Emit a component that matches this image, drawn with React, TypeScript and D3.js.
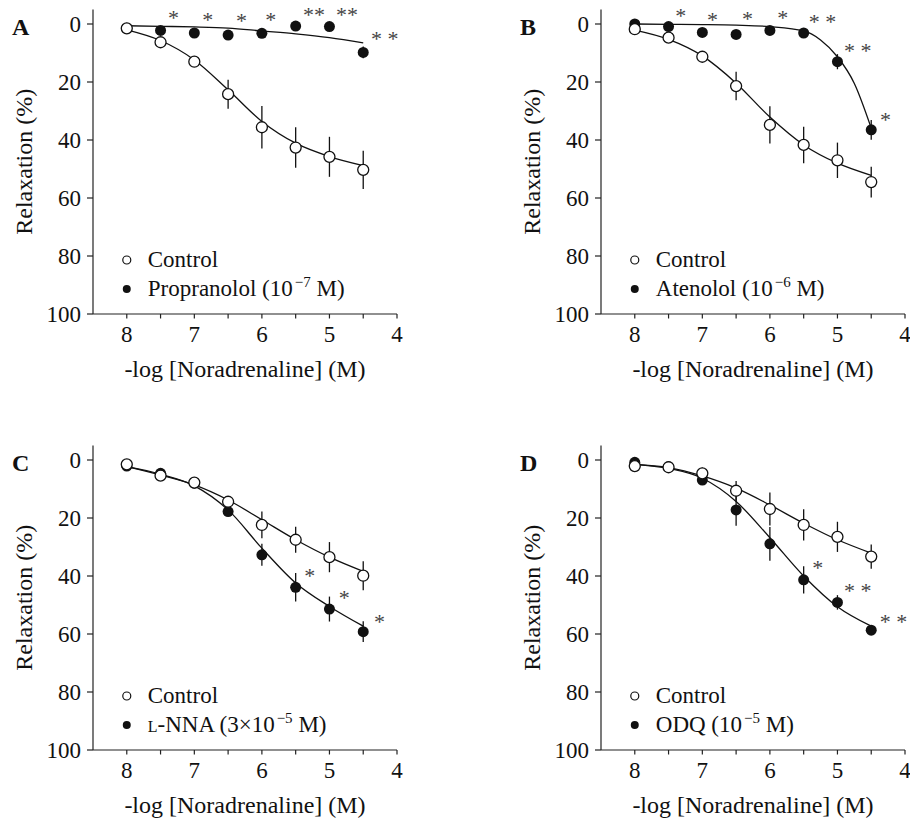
import * as d3 from "d3";

const doses = [8, 7.5, 7, 6.5, 6, 5.5, 5, 4.5];
const xMajorTicks = [8, 7, 6, 5, 4];
const xMinorTicks = [7.5, 6.5, 5.5, 4.5];
const yTicks = [0, 20, 40, 60, 80, 100];

// A: propranolol
const controlA = [1.5, 6.3, 13.0, 24.2, 35.6, 42.6, 45.8, 50.3];
const controlASem = [0.5, 0.8, 1.8, 5.0, 7.3, 7.0, 6.9, 6.6];
const controlAFit = [2.0, 5.7, 12.4, 22.7, 33.6, 41.1, 45.7, 48.8];
const propranolol = [1.5, 2.2, 3.1, 3.8, 3.2, 0.7, 0.9, 9.8];
const propranololSem = [0, 0, 0, 0, 0, 0, 0, 2.0];
const propranololFit = [0.6, 0.8, 1.0, 1.4, 2.4, 3.4, 4.7, 6.5];

// B: atenolol
const controlB = [1.8, 4.7, 11.3, 21.4, 34.8, 41.7, 47.0, 54.5];
const controlBSem = [0.5, 0.8, 1.5, 4.9, 6.4, 6.3, 6.1, 5.3];
const controlBFit = [2.1, 5.3, 11.0, 20.4, 32.1, 41.7, 48.0, 52.2];
const atenolol = [0, 0.9, 2.9, 3.6, 2.2, 3.1, 13.0, 36.5];
const atenololSem = [0, 0, 0, 0, 0, 0, 2.6, 3.4];
const atenololFitDoses = [8, 7.5, 7, 6.5, 6, 5.5, 5.25, 5, 4.75, 4.5];
const atenololFit = [0, 0.1, 0.2, 0.4, 0.9, 2.4, 5.5, 11.3, 20.5, 35.9];

// C: L-NNA
const controlC = [1.5, 5.4, 7.8, 14.4, 22.4, 27.5, 33.5, 39.9];
const controlCSem = [0.5, 0.8, 1.0, 1.5, 4.6, 4.5, 5.2, 5.0];
const controlCFit = [2.3, 5.2, 8.6, 13.8, 20.6, 27.5, 33.5, 38.4];
const lnna = [2.1, 4.6, 8.0, 17.8, 32.7, 43.9, 51.4, 59.2];
const lnnaSem = [0.5, 0.5, 0.8, 1.5, 3.8, 4.9, 4.3, 3.6];
const lnnaFit = [2.3, 4.9, 8.9, 17.2, 30.4, 42.4, 50.5, 57.3];

// D: ODQ
const controlD = [2.1, 2.5, 4.6, 10.6, 16.9, 22.4, 26.5, 33.3];
const controlDSem = [0.5, 0.5, 2.0, 3.4, 5.7, 5.4, 5.2, 4.2];
const controlDFit = [1.5, 2.6, 5.5, 9.7, 15.5, 21.8, 27.5, 32.1];
const odq = [0.8, 2.3, 6.9, 17.2, 28.9, 41.3, 49.1, 58.7];
const odqSem = [0.5, 0.5, 1.5, 5.5, 5.8, 4.7, 2.5, 1.5];
const odqFit = [1.5, 2.9, 6.3, 14.3, 26.8, 40.0, 50.6, 57.3];

// significance marks: [dose, relaxation, text]
const starsA: [number, number, string][] = [
  [7.31, -3.1, "*"], [6.8, -2.3, "*"], [6.3, -2.0, "*"], [5.87, -2.5, "*"],
  [5.23, -4.2, "**"], [4.74, -4.2, "**"], [4.18, 4.2, "* *"],
];
const starsB: [number, number, string][] = [
  [7.32, -3.7, "*"], [6.85, -2.5, "*"], [6.33, -2.8, "*"], [5.81, -3.2, "*"],
  [5.22, -1.7, "* *"], [4.7, 8.2, "* *"], [4.29, 31.9, "*"],
];
const starsC: [number, number, string][] = [
  [5.29, 39.0, "*"], [4.78, 46.4, "*"], [4.26, 54.8, "*"],
];
const starsD: [number, number, string][] = [
  [5.29, 36.1, "*"], [4.7, 44.3, "* *"], [4.17, 54.7, "* *"],
];

const FONT = "'Liberation Serif', 'Times New Roman', serif";

const x = d3.scaleLinear().domain([8.5, 4]).range([93, 397]);
const y = d3.scaleLinear().domain([-5, 100]).range([9.5, 314]);

type Series = { values: number[]; sem: number[]; fitX: number[]; fit: number[] };

const lineGen = d3
  .line<[number, number]>()
  .x((d) => x(d[0]))
  .y((d) => y(d[1]))
  .curve(d3.curveMonotoneX);

const Legend = ({ drug }: { drug: React.ReactNode }) => (
  <g fontFamily={FONT} fontSize={23} fill="#111">
    <circle cx={x(8)} cy={260} r={4} fill="#fff" stroke="#111" strokeWidth={1.2} />
    <text x={x(8) + 21} y={267}>Control</text>
    <circle cx={x(8)} cy={289} r={4} fill="#111" />
    <text x={x(8) + 21} y={296}>{drug}</text>
  </g>
);

const sup = (s: string) => [
  <tspan key="s" dx={2} dy={-9} fontSize={15}>{s}</tspan>,
  <tspan key="m" dy={9}>{" M)"}</tspan>,
];

const Panel = ({
  label, dx, dy, control, drug, stars, legend,
}: {
  label: string; dx: number; dy: number; control: Series; drug: Series;
  stars: [number, number, string][]; legend: React.ReactNode;
}) => {
  const errBars = (s: Series) =>
    doses.map((d, i) =>
      s.sem[i] > 0.6 ? (
        <line key={i} x1={x(d)} x2={x(d)} y1={y(s.values[i] - s.sem[i])} y2={y(s.values[i] + s.sem[i])}
          stroke="#111" strokeWidth={1.3} />
      ) : null
    );
  const curve = (s: Series) =>
    lineGen(s.fitX.map((d, i) => [d, s.fit[i]] as [number, number])) ?? "";
  return (
    <g transform={`translate(${dx},${dy})`}>
      <text x={12} y={35} fontFamily={FONT} fontSize={24} fontWeight="bold" fill="#111">{label}</text>
      {/* y axis */}
      <line x1={x(8.5)} x2={x(8.5)} y1={y(-5)} y2={y(100)} stroke="#222" strokeWidth={1.2} />
      {yTicks.map((t) => (
        <g key={t}>
          <line x1={x(8.5) - 6} x2={x(8.5)} y1={y(t)} y2={y(t)} stroke="#222" strokeWidth={1.2} />
          <text x={x(8.5) - 12} y={y(t) + 7.5} textAnchor="end" fontFamily={FONT} fontSize={23} fill="#111">{t}</text>
        </g>
      ))}
      {/* x axis */}
      <line x1={x(8.5)} x2={x(4)} y1={y(100)} y2={y(100)} stroke="#222" strokeWidth={1.2} />
      {xMajorTicks.concat(xMinorTicks).map((t) => (
        <line key={t} x1={x(t)} x2={x(t)} y1={y(100)} y2={y(100) + 4.5} stroke="#222" strokeWidth={1.2} />
      ))}
      {xMajorTicks.map((t) => (
        <text key={t} x={x(t)} y={342} textAnchor="middle" fontFamily={FONT} fontSize={23} fill="#111">{t}</text>
      ))}
      <text x={(x(8.5) + x(4)) / 2} y={377} textAnchor="middle" fontFamily={FONT} fontSize={24} fill="#111">
        -log [Noradrenaline] (M)
      </text>
      <text transform={`translate(32,${(y(-5) + y(100)) / 2}) rotate(-90)`} textAnchor="middle"
        fontFamily={FONT} fontSize={24} fill="#111">Relaxation (%)</text>
      {/* fitted curves */}
      <path d={curve(control)} fill="none" stroke="#111" strokeWidth={1.3} />
      <path d={curve(drug)} fill="none" stroke="#111" strokeWidth={1.3} />
      {errBars(control)}
      {errBars(drug)}
      {doses.map((d, i) => (
        <circle key={"f" + i} cx={x(d)} cy={y(drug.values[i])} r={5.5} fill="#111" />
      ))}
      {doses.map((d, i) => (
        <circle key={"o" + i} cx={x(d)} cy={y(control.values[i])} r={5.5} fill="#fff" stroke="#111" strokeWidth={1.3} />
      ))}
      {stars.map(([d, v, s], i) => (
        <text key={i} x={x(d)} y={y(v) + 10} textAnchor="middle" fontFamily={FONT} fontSize={22} fill="#444">{s}</text>
      ))}
      {legend}
    </g>
  );
};

export default function App() {
  const ser = (values: number[], sem: number[], fit: number[], fitX = doses): Series => ({ values, sem, fit, fitX });
  return (
    <svg width={910} height={822} style={{ position: "absolute", left: 0, top: 0, background: "#fff" }}>
      <Panel label="A" dx={0} dy={0}
        control={ser(controlA, controlASem, controlAFit)}
        drug={ser(propranolol, propranololSem, propranololFit)}
        stars={starsA}
        legend={<Legend drug={<>Propranolol (10{sup("−7")}</>} />} />
      <Panel label="B" dx={508} dy={0}
        control={ser(controlB, controlBSem, controlBFit)}
        drug={ser(atenolol, atenololSem, atenololFit, atenololFitDoses)}
        stars={starsB}
        legend={<Legend drug={<>Atenolol (10{sup("−6")}</>} />} />
      <Panel label="C" dx={0} dy={436}
        control={ser(controlC, controlCSem, controlCFit)}
        drug={ser(lnna, lnnaSem, lnnaFit)}
        stars={starsC}
        legend={<Legend drug={<><tspan fontSize={16}>L</tspan>-NNA (3×10{sup("−5")}</>} />} />
      <Panel label="D" dx={508} dy={436}
        control={ser(controlD, controlDSem, controlDFit)}
        drug={ser(odq, odqSem, odqFit)}
        stars={starsD}
        legend={<Legend drug={<>ODQ (10{sup("−5")}</>} />} />
    </svg>
  );
}
